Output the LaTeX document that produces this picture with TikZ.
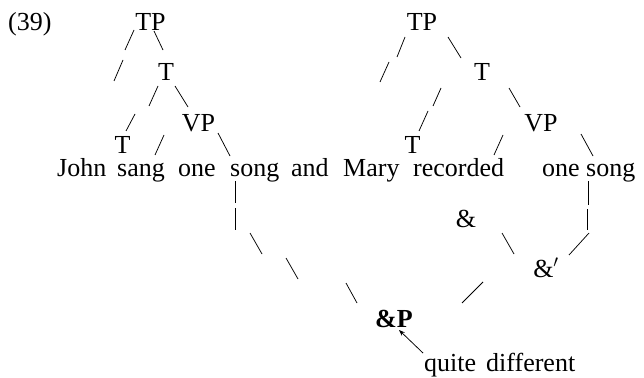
\documentclass[tikz,border=0pt]{standalone}
\usepackage{fontspec}
\setmainfont{Liberation Serif}
\usetikzlibrary{arrows.meta}
\begin{document}
\begin{tikzpicture}[x=1pt,y=-1pt,
  lbl/.style={inner sep=0pt,anchor=base,text depth=0pt,font=\fontsize{26}{30}\selectfont},
  wrd/.style={inner sep=0pt,anchor=base west,text height=0.72em,font=\fontsize{26}{30}\selectfont},
  br/.style={line width=0.75pt},
  ptr/.style={line width=0.75pt,-{Stealth[length=6pt,width=4.5pt]}}
]
\useasboundingbox (0,0) rectangle (644,377);
% labels
\node[wrd] (ex) at (8,31) {(39)};
\node[lbl] (tp1) at (150.5,31) {TP};
\node[lbl] (t1) at (166,81) {T};
\node[lbl] (vp1) at (198.5,131) {VP};
\node[lbl] (tl1) at (122.5,153) {T};
\node[lbl] (tp2) at (422,31) {TP};
\node[lbl] (t2) at (482,81) {T};
\node[lbl] (vp2) at (541,131) {VP};
\node[lbl] (tl2) at (412.5,153) {T};
% words
\node[wrd] (john) at (57,176) {John};
\node[wrd] (sang) at (117,176) {sang};
\node[wrd] (one1) at (178,176) {one};
\node[wrd] (song1) at (230,176) {song};
\node[wrd] (and) at (291,176) {and};
\node[wrd] (mary) at (343,176) {Mary};
\node[wrd] (rec) at (413,176) {recorded};
\node[wrd] (one2) at (542,176) {one};
\node[wrd] (song2) at (586,176) {song};
% lower part
\node[lbl] (amp) at (466,227) {\&};
\node[lbl] (ampb) at (546,277) {\&$'$};
\node[lbl,font=\fontsize{26}{30}\selectfont\bfseries] (andp) at (394,327) {\&P};
\node[wrd] (qd) at (424,371) {quite\hspace{10pt}different};
% left tree branches
\draw[br] (134,30)--(125,50) (123,60)--(114,81);
\draw[br] (154,31)--(163,50);
\draw[br] (158,86)--(149,106) (135,114)--(126,131);
\draw[br] (175,86)--(188,107);
\draw[br] (164,135)--(155,155);
\draw[br] (218,133)--(230,156);
\draw[br] (235,181)--(235,203) (235.5,208)--(235.5,230);
\draw[br] (250,233)--(262,254) (286,258)--(298,279) (346,283)--(357,303);
% right tree branches
\draw[br] (405,37)--(397,57) (389,62)--(380,82);
\draw[br] (448,37)--(461,58);
\draw[br] (441,88)--(433,106) (428,111)--(419,131);
\draw[br] (509,88)--(520,107);
\draw[br] (503,135)--(494,155);
\draw[br] (581,134)--(593,156);
\draw[br] (588,181)--(588,205) (587,209)--(587,230);
\draw[br] (589,233)--(569,255);
\draw[br] (502,233)--(514,254);
\draw[br] (483,282)--(462,303);
% arrow
\coordinate (arrS) at (423,353);
\coordinate (arrE) at (399,330);
\draw[ptr] (arrS) -- (arrE);
\end{tikzpicture}
\end{document}
